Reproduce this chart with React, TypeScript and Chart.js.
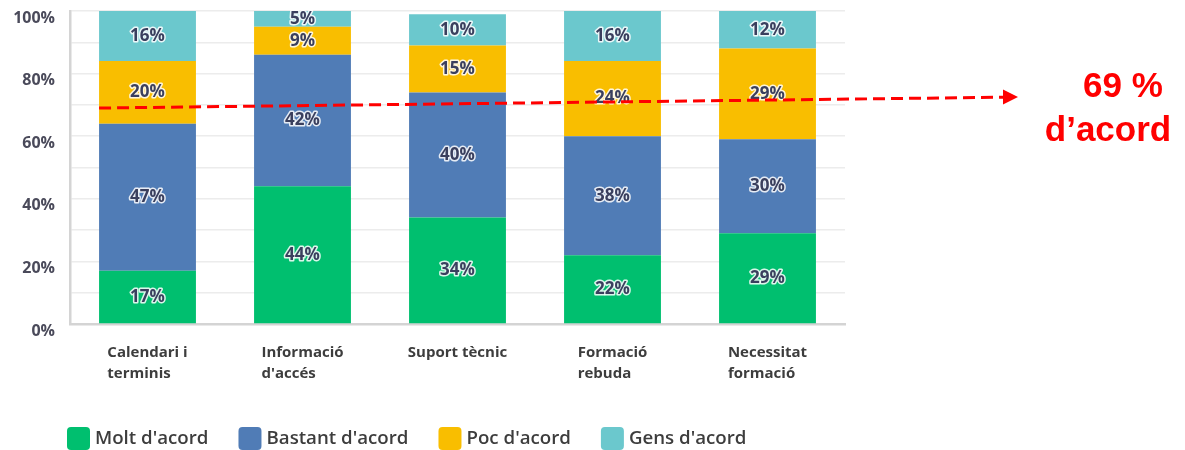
import React, { useEffect, useRef } from "react";
import { Chart, registerables } from "chart.js";
Chart.register(...registerables);

const categories: string[][] = [
  ["Calendari i", "terminis"],
  ["Informació", "d'accés"],
  ["Suport tècnic"],
  ["Formació", "rebuda"],
  ["Necessitat", "formació"],
];
const seriesNames = ["Molt d'acord", "Bastant d'acord", "Poc d'acord", "Gens d'acord"];
const moltAcord = [17, 44, 34, 22, 29];
const bastantAcord = [47, 42, 40, 38, 30];
const pocAcord = [20, 9, 15, 24, 29];
const gensAcord = [16, 5, 10, 16, 12];
const seriesColors = ["#00BF6F", "#507CB6", "#F9BE00", "#6BC8CD"];
const agreeText = ["69 %", "d’acord"];
const agreeStart = 69;
const agreeEnd = 72.5;

const FONT = "'Open Sans', 'DejaVu Sans', sans-serif";

const labelsPlugin = {
  id: "customLabels",
  afterDatasetsDraw(chart: any) {
    const ctx = chart.ctx;
    ctx.save();
    ctx.font = `700 17px ${FONT}`;
    ctx.textAlign = "center";
    ctx.textBaseline = "middle";
    ctx.lineJoin = "round";
    chart.data.datasets.forEach((ds: any, di: number) => {
      const meta = chart.getDatasetMeta(di);
      meta.data.forEach((el: any, i: number) => {
        const v = ds.data[i];
        const y = (el.y + el.base) / 2;
        const t = `${v}%`;
        ctx.lineWidth = 3;
        ctx.strokeStyle = "rgba(255,255,255,0.85)";
        ctx.strokeText(t, el.x, y);
        ctx.fillStyle = "#3a3f5e";
        ctx.fillText(t, el.x, y);
      });
    });
    ctx.restore();
  },
  afterDraw(chart: any) {
    const ctx = chart.ctx;
    const area = chart.chartArea;
    const xs = chart.scales.x;
    const ys = chart.scales.y;
    ctx.save();
    // category labels: left-aligned block centered on category
    ctx.font = `700 15px ${FONT}`;
    ctx.fillStyle = "#3d3d3d";
    ctx.textAlign = "left";
    ctx.textBaseline = "middle";
    categories.forEach((lines, i) => {
      const cx = xs.getPixelForValue(i);
      const w = Math.max(...lines.map((l) => ctx.measureText(l).width));
      lines.forEach((l, j) => {
        ctx.fillText(l, cx - w / 2, area.bottom + 29 + j * 21);
      });
    });

    // legend
    ctx.font = `600 18.7px ${FONT}`;
    let lx = 67;
    const ly = 438;
    seriesNames.forEach((name, i) => {
      ctx.fillStyle = seriesColors[i];
      ctx.beginPath();
      (ctx as any).roundRect(lx, ly - 11, 23, 23, 4);
      ctx.fill();
      ctx.fillStyle = "#3d3d3d";
      ctx.textAlign = "left";
      ctx.fillText(name, lx + 28, ly + 1);
      lx += 28 + ctx.measureText(name).width + 30;
    });

    // red dashed arrow
    const meta0 = chart.getDatasetMeta(0);
    const b0 = meta0.data[0] as any;
    const x0 = b0.x - b0.width / 2;
    const y0 = ys.getPixelForValue(agreeStart);
    const tipX = area.right + 173;
    const y1 = ys.getPixelForValue(agreeEnd);
    const headLen = 15;
    const lineEndX = tipX - headLen;
    const lineEndY = y0 + ((y1 - y0) * (lineEndX - x0)) / (tipX - x0);
    ctx.strokeStyle = "#FF0000";
    ctx.fillStyle = "#FF0000";
    ctx.lineWidth = 3;
    ctx.setLineDash([12, 6]);
    ctx.beginPath();
    ctx.moveTo(x0, y0);
    ctx.lineTo(lineEndX, lineEndY);
    ctx.stroke();
    ctx.setLineDash([]);
    ctx.beginPath();
    ctx.moveTo(tipX, y1);
    ctx.lineTo(lineEndX, y1 - 7.5);
    ctx.lineTo(lineEndX, y1 + 7.5);
    ctx.closePath();
    ctx.fill();

    ctx.font = `700 35px 'Liberation Sans', Arial, sans-serif`;
    ctx.textAlign = "center";
    ctx.textBaseline = "alphabetic";
    ctx.fillText(agreeText[0], area.right + 278, 97);
    ctx.fillText(agreeText[1], area.right + 263, 141);
    ctx.restore();
  },
};

export default function App() {
  const ref = useRef<HTMLCanvasElement | null>(null);
  useEffect(() => {
    if (!ref.current) return;
    const series = [moltAcord, bastantAcord, pocAcord, gensAcord];
    const chart = new Chart(ref.current, {
      type: "bar",
      data: {
        labels: categories.map((c) => c.join(" ")),
        datasets: series.map((d, i) => ({
          label: seriesNames[i],
          data: d,
          backgroundColor: seriesColors[i],
          borderWidth: 0,
          categoryPercentage: 1,
          barPercentage: 0.625,
        })),
      },
      options: {
        animation: false,
        responsive: true,
        maintainAspectRatio: false,
        layout: { padding: { top: 11, right: 340, left: 0, bottom: 0 } },
        plugins: { legend: { display: false }, tooltip: { enabled: false } },
        scales: {
          x: {
            stacked: true,
            grid: { display: false, drawTicks: false },
            border: { display: true, color: "#d4d4d4", width: 2.5 },
            ticks: { display: false },
            afterFit: (s: any) => {
              s.height = 126;
              s.paddingLeft = 0;
              s.paddingRight = 0;
            },
          },
          y: {
            stacked: true,
            min: 0,
            max: 100,
            grid: { color: "#ececec", lineWidth: 1.5, drawTicks: false },
            border: { display: true, color: "#d4d4d4", width: 2.5 },
            ticks: {
              stepSize: 10,
              padding: 15,
              labelOffset: 7,
              color: "#4a4a5a",
              font: { family: FONT, size: 16, weight: "bold" },
              callback: (v: any) => (Number(v) % 20 === 0 ? `${v}%` : ""),
            },
            afterFit: (s: any) => {
              s.width = 70;
              s.paddingTop = 0;
              s.paddingBottom = 0;
            },
          },
        },
      },
      plugins: [labelsPlugin],
    });
    return () => chart.destroy();
  }, []);
  return (
    <div style={{ position: "fixed", left: 0, top: 0, width: 1185, height: 450 }}>
      <canvas ref={ref} />
    </div>
  );
}
